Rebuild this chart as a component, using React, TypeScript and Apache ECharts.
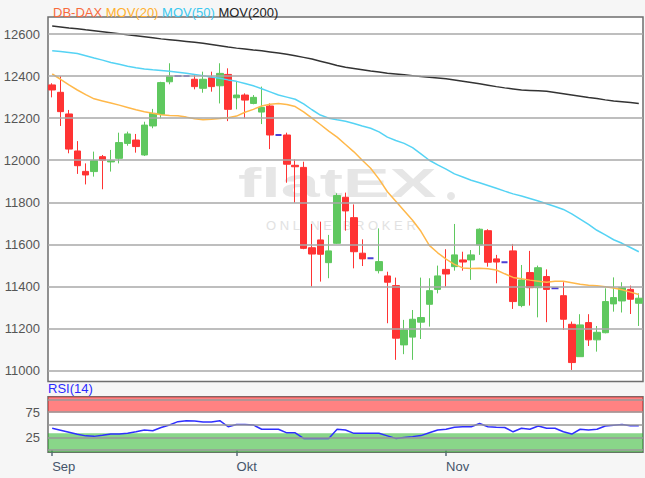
import React, { useEffect, useRef } from "react";
import * as echarts from "echarts";

// ---- data ----
const monthTicks = [
  { index: 0, label: "Sep" },
  { index: 22, label: "Okt" },
  { index: 47, label: "Nov" },
];

const opens = [
  12358, 12323, 12220, 12044, 11947, 11946, 12017, 11992, 12009, 12080,
  12096, 12025, 12163, 12218, 12373, 12400, 12400, 12385, 12342, 12392,
  12354, 12408, 12297, 12310, 12270, 12229, 12258, 12120, 12120, 11976,
  11966, 11584, 11621, 11513, 11605, 11824, 11727, 11558, 11534, 11475,
  11450, 11404, 11122, 11159, 11230, 11315, 11386, 11481, 11494, 11526,
  11526, 11597, 11665, 11531, 11515, 11569, 11309, 11466, 11394, 11447,
  11391, 11356, 11220, 11066, 11228, 11146, 11180, 11317, 11331, 11386,
  11320,
];
const closes = [
  12334, 12231, 12053, 11974, 11930, 11998, 12000, 11998, 12084, 12125,
  12065, 12167, 12223, 12369, 12400, 12400, 12400, 12350, 12385, 12350,
  12413, 12242, 12310, 12286, 12299, 12251, 12120, 12120, 11981, 11969,
  11581, 11554, 11553, 11569, 11832, 11759, 11565, 11531, 11534, 11518,
  11420, 11154, 11193, 11244, 11252, 11380, 11450, 11459, 11550, 11516,
  11550, 11672, 11515, 11516, 11515, 11328, 11431, 11394, 11489, 11386,
  11391, 11244, 11038, 11217, 11146, 11182, 11328, 11347, 11394, 11339,
  11344,
];
const lows = [
  12299, 12163, 12033, 11935, 11885, 11922, 11862, 11946, 11985, 12069,
  12036, 12020, 12152, 12199, 12361, 12400, 12400, 12337, 12321, 12326,
  12270, 12186, 12242, 12199, 12266, 12172, 12053, 12120, 11893, 11798,
  11577, 11399, 11423, 11439, 11602, 11665, 11486, 11497, 11534, 11462,
  11225, 11051, 11078, 11051, 11150, 11209, 11367, 11399, 11475, 11475,
  11431, 11550, 11494, 11415, 11515, 11293, 11301, 11309, 11253, 11230,
  11391, 11193, 11003, 11066, 11117, 11090, 11177, 11280, 11276, 11269,
  11212,
];
const highs = [
  12366, 12400, 12239, 12091, 11985, 12041, 12025, 12049, 12131, 12136,
  12125, 12183, 12244, 12373, 12461, 12400, 12400, 12405, 12421, 12421,
  12461, 12437, 12373, 12318, 12310, 12350, 12270, 12120, 12131, 12004,
  11993, 11697, 11708, 11645, 11843, 11846, 11790, 11624, 11534, 11676,
  11470, 11442, 11241, 11288, 11442, 11439, 11499, 11577, 11697, 11565,
  11573, 11676, 11672, 11550, 11515, 11602, 11502, 11569, 11499, 11481,
  11391, 11420, 11233, 11268, 11268, 11212, 11391, 11443, 11420, 11404,
  11367,
];

const mov20 = [
  12410, 12385, 12358, 12334, 12312, 12292, 12282, 12272, 12262, 12251,
  12240, 12231, 12223, 12216, 12213, 12211, 12205, 12197, 12193, 12195,
  12198, 12202, 12210, 12228, 12242, 12258, 12266, 12270, 12265, 12255,
  12230, 12200, 12170, 12138, 12110, 12075, 12040, 12000, 11962, 11910,
  11850, 11805, 11760, 11715, 11662, 11595, 11560, 11530, 11505, 11488,
  11485, 11486, 11484, 11478, 11460, 11443, 11436, 11430, 11425, 11420,
  11425, 11425, 11418, 11410, 11406, 11403, 11398, 11393, 11384, 11373,
  11362,
];
const mov50 = [
  12521, 12517, 12512, 12507, 12497, 12486, 12476, 12465, 12456, 12447,
  12440, 12434, 12430, 12427, 12423, 12418, 12413, 12408, 12402, 12396,
  12390, 12382, 12375, 12365, 12354, 12340, 12325, 12310, 12300, 12290,
  12268, 12240, 12215, 12200, 12192, 12185, 12175, 12163, 12152, 12135,
  12110, 12094, 12080, 12060, 12030, 12000, 11978, 11958, 11935, 11920,
  11905, 11893, 11880, 11867, 11853, 11840, 11830, 11818, 11806, 11793,
  11780, 11766, 11745, 11720, 11695, 11667, 11645, 11622, 11605, 11585,
  11565,
];
const mov200 = [
  12638, 12634, 12629, 12625, 12620, 12616, 12611, 12606, 12601, 12596,
  12592, 12587, 12582, 12577, 12573, 12569, 12565, 12561, 12556, 12550,
  12544, 12538, 12533, 12529, 12524, 12520, 12515, 12510, 12504, 12497,
  12489, 12481, 12471, 12461, 12450, 12442, 12436, 12430, 12424, 12419,
  12414, 12410, 12406, 12402, 12398, 12395, 12391, 12387, 12382, 12376,
  12370, 12364, 12357, 12350, 12344, 12339, 12334, 12332, 12330, 12328,
  12322, 12316, 12310, 12304, 12298, 12293, 12287, 12282, 12278, 12274,
  12270,
];
const rsi14 = [
  43, 39, 35, 31, 28, 27, 29, 31.5, 31.5, 33,
  36, 39.5, 38, 44.5, 49.5, 56, 58, 57.5, 55.5, 55.5,
  58, 46, 50.5, 50.5, 49.5, 41, 41, 41, 34, 34,
  23, 23, 23, 23, 41, 39.5, 33, 33, 33, 33,
  28, 23, 25, 26.5, 28.5, 34, 39.5, 41, 45, 46,
  46, 52.5, 46, 45, 44.5, 36, 43, 41, 47.5, 43,
  43, 36, 31.5, 41, 39.5, 41, 47.5, 49, 50.5, 48,
  48,
];

const priceTicks = [11000, 11200, 11400, 11600, 11800, 12000, 12200, 12400, 12600];
const rsiLabelTicks = [25, 75];
const rsiGridLines = [0, 25, 50, 75, 100];
const rsiOverbought = 74;
const rsiOversold = 33;

// ---- styles ----
const FONT = "'Liberation Sans', Arial, sans-serif";
const UP = "#5fc85f";
const DOWN = "#ff3333";
const DOJI = "#4b3fd6";
const PRICE_MIN = 10948;
const PRICE_MAX = 12681;
const RSI_MIN = -4.4;
const RSI_MAX = 105.2;

export default function App() {
  const ref = useRef<HTMLDivElement>(null);

  useEffect(() => {
    if (!ref.current) return;
    const chart = echarts.init(ref.current, undefined, { renderer: "svg" });
    const days = opens.map((_, i) => String(i));
    const monthMap = new Map(monthTicks.map((m) => [m.index, m.label]));

    const candleData = opens.map((o, i) => {
      const v = [o, closes[i], lows[i], highs[i]];
      if (o === closes[i]) {
        return {
          value: v,
          itemStyle: {
            color: DOJI,
            color0: DOJI,
            borderColor: DOJI,
            borderColor0: DOJI,
            borderColorDoji: DOJI,
            borderWidth: 2,
          },
        };
      }
      return { value: v };
    });

    const option: any = {
      animation: false,
      backgroundColor: "#f6f6f6",
      textStyle: { fontFamily: FONT },
      title: {
        left: 48,
        top: 1,
        text: "{a|DB-DAX} {b|MOV(20)} {c|MOV(50)} {d|MOV(200)}",
        textStyle: {
          fontSize: 13,
          fontWeight: "normal",
          fontFamily: FONT,
          rich: {
            a: { color: "#f86a3c", fontSize: 13, fontFamily: FONT },
            b: { color: "#ffb030", fontSize: 13, fontFamily: FONT },
            c: { color: "#3cc8ef", fontSize: 13, fontFamily: FONT },
            d: { color: "#222222", fontSize: 13, fontFamily: FONT },
          },
        },
      },
      graphic: [
        {
          type: "text",
          x: 238,
          y: 163,
          scaleX: 1.75,
          z: 1,
          silent: true,
          style: {
            text: "flatEX",
            font: `bold 40px ${FONT}`,
            fill: "#e6e6e6",
          },
        },
        {
          type: "circle",
          z: 1,
          silent: true,
          shape: { cx: 451, cy: 196, r: 4 },
          style: { fill: "#e6e6e6" },
        },
        {
          type: "text",
          x: 266,
          y: 219,
          z: 1,
          silent: true,
          style: {
            text: "O N L I N E   B R O K E R",
            font: `13px ${FONT}`,
            fill: "#e2e2e2",
          },
        },
        {
          type: "text",
          x: 48,
          y: 382,
          z: 5,
          silent: true,
          style: {
            text: "RSI(14)",
            font: `13px ${FONT}`,
            fill: "#2b2bff",
          },
        },
      ],
      grid: [
        {
          left: 48,
          right: 2,
          top: 17,
          height: 364.5,
          show: true,
          backgroundColor: "#ffffff",
          borderColor: "#6e6e6e",
          borderWidth: 1.5,
        },
        {
          left: 48,
          right: 2,
          top: 396.7,
          height: 55.6,
          show: true,
          backgroundColor: "#ffffff",
          borderColor: "#6e6e6e",
          borderWidth: 1.5,
        },
      ],
      xAxis: [
        {
          type: "category",
          gridIndex: 0,
          data: days,
          boundaryGap: true,
          axisLine: { show: false },
          axisTick: { show: false },
          axisLabel: { show: false },
          splitLine: { show: false },
        },
        {
          type: "category",
          gridIndex: 1,
          data: days,
          boundaryGap: true,
          axisLine: { show: false },
          axisTick: {
            show: true,
            alignWithLabel: true,
            interval: (i: number) => monthMap.has(i),
            length: 6,
            lineStyle: { color: "#5a6a7a", width: 1.5 },
          },
          axisLabel: {
            interval: (i: number) => monthMap.has(i),
            formatter: (_v: string, i: number) => monthMap.get(i) ?? "",
            align: "left",
            color: "#44546a",
            fontSize: 13,
            fontFamily: FONT,
            margin: 8,
          },
          splitLine: { show: false },
        },
      ],
      yAxis: [
        {
          type: "value",
          gridIndex: 0,
          min: PRICE_MIN,
          max: PRICE_MAX,
          axisLine: { show: false },
          axisTick: { show: false },
          splitLine: { show: false },
          axisLabel: {
            customValues: priceTicks,
            formatter: (v: number) => String(Math.round(v)),
            color: "#555555",
            fontSize: 13,
            fontFamily: FONT,
            margin: 8,
          },
        },
        {
          type: "value",
          gridIndex: 1,
          min: RSI_MIN,
          max: RSI_MAX,
          axisLine: { show: false },
          axisTick: { show: false },
          splitLine: { show: false },
          axisLabel: {
            customValues: rsiLabelTicks,
            formatter: (v: number) => String(Math.round(v)),
            color: "#555555",
            fontSize: 13,
            fontFamily: FONT,
            margin: 8,
          },
        },
      ],
      series: [
        {
          name: "gridlines",
          type: "line",
          xAxisIndex: 0,
          yAxisIndex: 0,
          data: [],
          z: 1,
          silent: true,
          markLine: {
            silent: true,
            symbol: ["none", "none"],
            label: { show: false },
            emphasis: { disabled: true },
            lineStyle: { color: "#a8a8a8", width: 1.5, type: "solid" },
            data: priceTicks.map((v) => ({ yAxis: v })),
          },
        },
        {
          name: "DB-DAX",
          type: "candlestick",
          xAxisIndex: 0,
          yAxisIndex: 0,
          z: 3,
          barWidth: 7,
          data: candleData,
          itemStyle: {
            color: UP,
            color0: DOWN,
            borderColor: UP,
            borderColor0: DOWN,
            borderColorDoji: DOJI,
            borderWidth: 1,
          },
        },
        {
          name: "MOV(20)",
          type: "line",
          xAxisIndex: 0,
          yAxisIndex: 0,
          z: 4,
          data: mov20,
          showSymbol: false,
          smooth: false,
          lineStyle: { color: "#ffb84a", width: 1.5 },
        },
        {
          name: "MOV(50)",
          type: "line",
          xAxisIndex: 0,
          yAxisIndex: 0,
          z: 4,
          data: mov50,
          showSymbol: false,
          lineStyle: { color: "#55d3f4", width: 1.5 },
        },
        {
          name: "MOV(200)",
          type: "line",
          xAxisIndex: 0,
          yAxisIndex: 0,
          z: 4,
          data: mov200,
          showSymbol: false,
          lineStyle: { color: "#333333", width: 1.5 },
        },
        {
          name: "rsiGrid",
          type: "line",
          xAxisIndex: 1,
          yAxisIndex: 1,
          data: [],
          z: 1,
          silent: true,
          markLine: {
            silent: true,
            symbol: ["none", "none"],
            label: { show: false },
            emphasis: { disabled: true },
            lineStyle: { color: "#999999", width: 1.5, type: "solid" },
            data: rsiGridLines.map((v) => ({ yAxis: v })),
          },
        },
        {
          name: "rsiBands",
          type: "line",
          xAxisIndex: 1,
          yAxisIndex: 1,
          data: [],
          z: 2,
          silent: true,
          markArea: {
            silent: true,
            emphasis: { disabled: true },
            data: [
              [
                { yAxis: rsiOverbought, itemStyle: { color: "rgba(255,40,40,0.58)" } },
                { yAxis: RSI_MAX },
              ],
              [
                { yAxis: RSI_MIN, itemStyle: { color: "rgba(40,180,40,0.55)" } },
                { yAxis: rsiOversold },
              ],
            ],
          },
        },
        {
          name: "RSI(14)",
          type: "line",
          xAxisIndex: 1,
          yAxisIndex: 1,
          z: 4,
          data: rsi14,
          showSymbol: false,
          lineStyle: { color: "#2f2fff", width: 1.5 },
        },
      ],
    };

    chart.setOption(option);
    return () => chart.dispose();
  }, []);

  return (
    <div
      ref={ref}
      style={{
        position: "fixed",
        left: 0,
        top: 0,
        width: 645,
        height: 478,
        background: "#f6f6f6",
      }}
    />
  );
}
